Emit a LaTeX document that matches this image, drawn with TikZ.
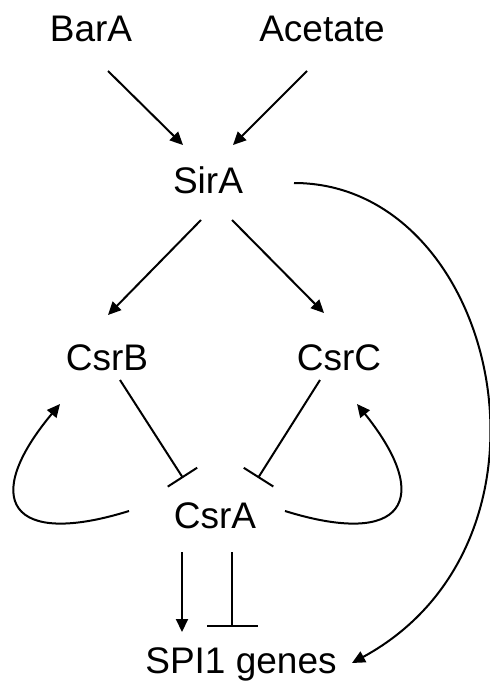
\documentclass[tikz,border=0pt]{standalone}
\usepackage{fontspec}
\setmainfont{Liberation Sans}
\usetikzlibrary{arrows.meta}
\begin{document}
\begin{tikzpicture}[x=0.5pt,y=-0.5pt,line width=1pt,
    every node/.style={font=\fontsize{18.5}{22}\selectfont,inner sep=0pt,anchor=base},
    act/.style={-{Triangle[length=6.5pt,width=6pt]}},
    inh/.style={-{Bar[width=17.5pt]}}]
  \useasboundingbox (0,0) rectangle (489,690);
  \draw
    (91,42) node (barA){BarA}
    (322,42) node (acetate){Acetate}
    (208,193) node (sirA){SirA}
    (107,370) node (csrB){CsrB}
    (339,370) node (csrC){CsrC}
    (215,528) node (csrA){CsrA}
    (241,673) node (spi){SPI1 genes};
  \begin{scope}[act]
    \draw ([shift={(17,29)}]barA.base) to ([shift={(-25,-48)}]sirA.base);
    \draw ([shift={(-15,29)}]acetate.base) to ([shift={(25,-48)}]sirA.base);
    \draw ([shift={(-7,27)}]sirA.base) to ([shift={(1,-55)}]csrB.base);
    \draw ([shift={(24,27)}]sirA.base) to ([shift={(-15,-57)}]csrC.base);
    \draw ([shift={(-86,-17)}]csrA.base) .. controls +(-119,37) and +(-80,96) .. ([shift={(-47,34)}]csrB.base);
    \draw ([shift={(70,-17)}]csrA.base) .. controls +(119,37) and +(77,96) .. ([shift={(18,34)}]csrC.base);
    \draw ([shift={(-33,24)}]csrA.base) to ([shift={(-59,-41)}]spi.base);
    \draw ([shift={(86,-10)}]sirA.base) .. controls +(204,0) and +(226,-123) .. ([shift={(111,-10)}]spi.base);
  \end{scope}
  \begin{scope}[inh]
    \draw ([shift={(13,10)}]csrB.base) to ([shift={(-32,-50)}]csrA.base);
    \draw ([shift={(-19,10)}]csrC.base) to ([shift={(43,-50)}]csrA.base);
    \draw[-{Bar[width=25.5pt]}] ([shift={(17,24)}]csrA.base) to ([shift={(-9,-46)}]spi.base);
  \end{scope}
\end{tikzpicture}
\end{document}
